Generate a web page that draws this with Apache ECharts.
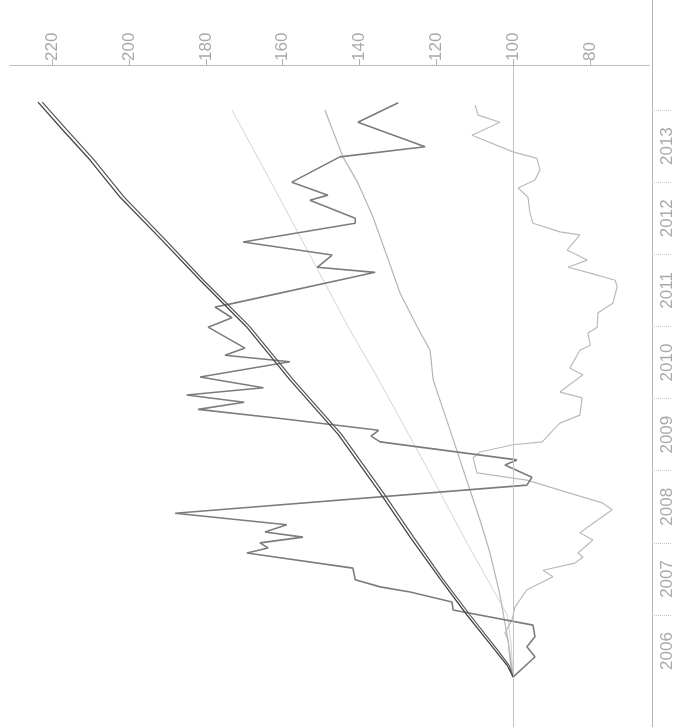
<!DOCTYPE html>
<html>
<head>
<meta charset="utf-8">
<script src="https://cdn.jsdelivr.net/npm/echarts@6/dist/echarts.min.js"></script>
<style>html,body{margin:0;padding:0;background:#fff}#c{width:677px;height:727px}</style>
</head>
<body>
<div id="c"></div>
<script>
// value axis tick labels and year labels
var valueTicks = [80, 100, 120, 140, 160, 180, 200, 220];
var years = [2006, 2007, 2008, 2009, 2010, 2011, 2012, 2013];
var yearTicks = [2007, 2008, 2009, 2010, 2011, 2012, 2013, 2014];

// Series 1 (dark, doubled line)
var s1Time = [2006.14, 2006.3, 2006.5, 2007.0, 2007.5, 2008.08, 2008.69, 2009.5, 2010.26, 2011.0, 2011.64, 2012.2, 2012.79, 2013.31, 2013.72, 2014.11];
var s1aVal = [100, 101.5, 104.5, 112, 119, 126.8, 134.6, 145.5, 158.1, 169.5, 181.5, 191.5, 202.3, 210.2, 217.2, 223.7];
var s1bVal = [100, 101.0, 103.8, 111.2, 118.3, 125.9, 133.7, 144.6, 157.2, 168.6, 180.6, 190.5, 201.2, 209.1, 216.1, 222.6];

// Series 2 (medium grey, volatile)
var s2Time = [2006.14, 2006.38, 2006.42, 2006.56, 2006.70, 2006.86, 2007.07, 2007.18, 2007.32, 2007.39, 2007.49, 2007.65, 2007.86, 2007.93, 2008.00, 2008.08, 2008.15, 2008.25, 2008.41, 2008.80, 2008.91, 2009.08, 2009.15, 2009.40, 2009.48, 2009.56, 2009.72, 2009.85, 2009.95, 2010.05, 2010.15, 2010.30, 2010.51, 2010.60, 2010.70, 2010.99, 2011.12, 2011.27, 2011.32, 2011.75, 2011.82, 2011.99, 2012.17, 2012.43, 2012.50, 2012.75, 2012.82, 2013.00, 2013.35, 2013.49, 2013.83, 2014.10];
var s2Val = [100, 95.1, 94.3, 96.4, 94.3, 94.8, 115.6, 115.9, 126.8, 134.6, 141.1, 141.7, 169.3, 163.8, 165.9, 154.7, 164.6, 158.9, 188.0, 96.4, 95.1, 102.1, 99.0, 134.6, 137, 135, 160, 182, 170, 185, 165, 181.5, 158.1, 175.0, 169.8, 179.4, 173.2, 177.6, 172.9, 135.9, 151.0, 147.1, 170.3, 141.1, 141.1, 152.9, 148.2, 157.6, 145.1, 122.9, 140.4, 129.9];

// Series 3 (faint, steady)
var s3Time = [2006.14, 2006.6, 2007.0, 2008.0, 2009.0, 2010.3, 2011.0, 2012.0, 2013.0, 2014.0];
var s3Val = [100, 100.5, 101.5, 112, 122, 135.4, 143, 153, 163, 173.2];

// Series 4 (light grey, steady)
var s4Time = [2006.14, 2006.65, 2007.3, 2007.86, 2008.3, 2008.73, 2009.5, 2010.26, 2010.67, 2011.0, 2011.46, 2012.0, 2012.52, 2013.0, 2013.35, 2014.0];
var s4Val = [100, 101.3, 103.5, 106, 108.5, 111.2, 116, 120.8, 121.6, 125, 129.4, 133, 136.5, 140.5, 144.3, 149];

// Series 5 (light grey, volatile)
var s5Time = [2006.14, 2006.38, 2006.65, 2006.75, 2006.93, 2007.11, 2007.35, 2007.53, 2007.62, 2007.72, 2007.80, 2007.86, 2008.04, 2008.14, 2008.46, 2008.55, 2008.73, 2008.87, 2008.97, 2009.18, 2009.26, 2009.36, 2009.40, 2009.59, 2009.66, 2009.77, 2010.01, 2010.09, 2010.22, 2010.33, 2010.42, 2010.67, 2010.74, 2010.91, 2010.99, 2011.19, 2011.32, 2011.55, 2011.64, 2011.74, 2011.82, 2011.92, 2012.06, 2012.27, 2012.31, 2012.43, 2012.57, 2012.79, 2012.92, 2013.03, 2013.17, 2013.33, 2013.42, 2013.65, 2013.83, 2013.93, 2014.07];
var s5Val = [100, 100.8, 101.3, 102.1, 100.3, 99.5, 96.4, 89.6, 92.2, 83.9, 81.8, 83.1, 79.2, 82.6, 74.2, 76.6, 87.8, 96.4, 109.4, 110.4, 108.6, 100, 92.4, 89.1, 87.8, 82.6, 82.0, 87.8, 84.6, 81.8, 85.2, 82.6, 79.9, 80.5, 78.1, 77.9, 74.0, 72.9, 73.4, 79.9, 85.7, 80.7, 85.9, 82.6, 87.8, 94.8, 95.6, 96.1, 98.7, 94.3, 93.0, 93.8, 100, 110.7, 103.4, 109.1, 109.9];

function pairs(t, v) { return t.map(function (x, i) { return [v[i], x]; }); }

var FONT = 'Liberation Sans';
var chart = echarts.init(document.getElementById('c'), null, { renderer: 'canvas' });

function line(name, t, v, color, width, z) {
  return {
    name: name, type: 'line', xAxisIndex: 0, yAxisIndex: 0,
    data: pairs(t, v), showSymbol: false, symbol: 'none', smooth: false,
    lineStyle: { color: color, width: width }, z: z, silent: true
  };
}

var series = [
  {
    type: 'line', xAxisIndex: 0, yAxisIndex: 0, data: [], silent: true,
    markLine: {
      silent: true, symbol: ['none', 'none'], label: { show: false },
      lineStyle: { color: '#c4c4c4', width: 1, type: 'solid' },
      data: [{ xAxis: 100 }], animation: false
    }
  },
  line('s3', s3Time, s3Val, '#d4d4d4', 1, 2),
  line('s4', s4Time, s4Val, '#b4b4b4', 1.2, 3),
  line('s5', s5Time, s5Val, '#bababa', 1.2, 3),
  line('s2', s2Time, s2Val, '#7c7c7c', 1.6, 4),
  line('s1a', s1Time, s1aVal, '#474747', 1.3, 5),
  line('s1b', s1Time, s1bVal, '#555555', 1.2, 5)
];

chart.setOption({
  animation: false,
  backgroundColor: '#ffffff',
  grid: [
    { left: 9, right: 28, top: 65, bottom: 0, containLabel: false },
    { left: 9, right: 25, top: 0, bottom: 0, containLabel: false }
  ],
  xAxis: [
    {
      gridIndex: 0, type: 'value', position: 'top', inverse: true,
      min: 64.6, max: 231.25,
      axisLine: { show: true, onZero: false, lineStyle: { color: '#b0b0b0', type: 'dotted', width: 1 } },
      axisTick: { show: true, customValues: valueTicks, length: 6, lineStyle: { color: '#b0b0b0' } },
      axisLabel: { customValues: valueTicks, rotate: -90, margin: 4, color: '#a9a9a9', fontSize: 17, fontFamily: FONT },
      splitLine: { show: false }
    },
    { gridIndex: 1, type: 'value', show: false, min: 0, max: 1 }
  ],
  yAxis: [
    { gridIndex: 0, type: 'value', show: false, min: 2005.4475, max: 2014.624 },
    {
      gridIndex: 1, type: 'value', position: 'right', min: 2005.4475, max: 2015.525,
      axisLine: { show: true, onZero: false, lineStyle: { color: '#b4b4b4', width: 1 } },
      axisTick: { show: true, customValues: yearTicks, length: 20, lineStyle: { color: '#c4c4c4', type: 'dotted' } },
      axisLabel: {
        customValues: years.map(function (y) { return y + 0.5; }),
        formatter: function (v) { return String(Math.floor(v)); },
        rotate: 90, margin: 7, color: '#a9a9a9', fontSize: 17, fontFamily: FONT
      },
      splitLine: { show: false }
    }
  ],
  series: series
});
</script>
</body>
</html>
